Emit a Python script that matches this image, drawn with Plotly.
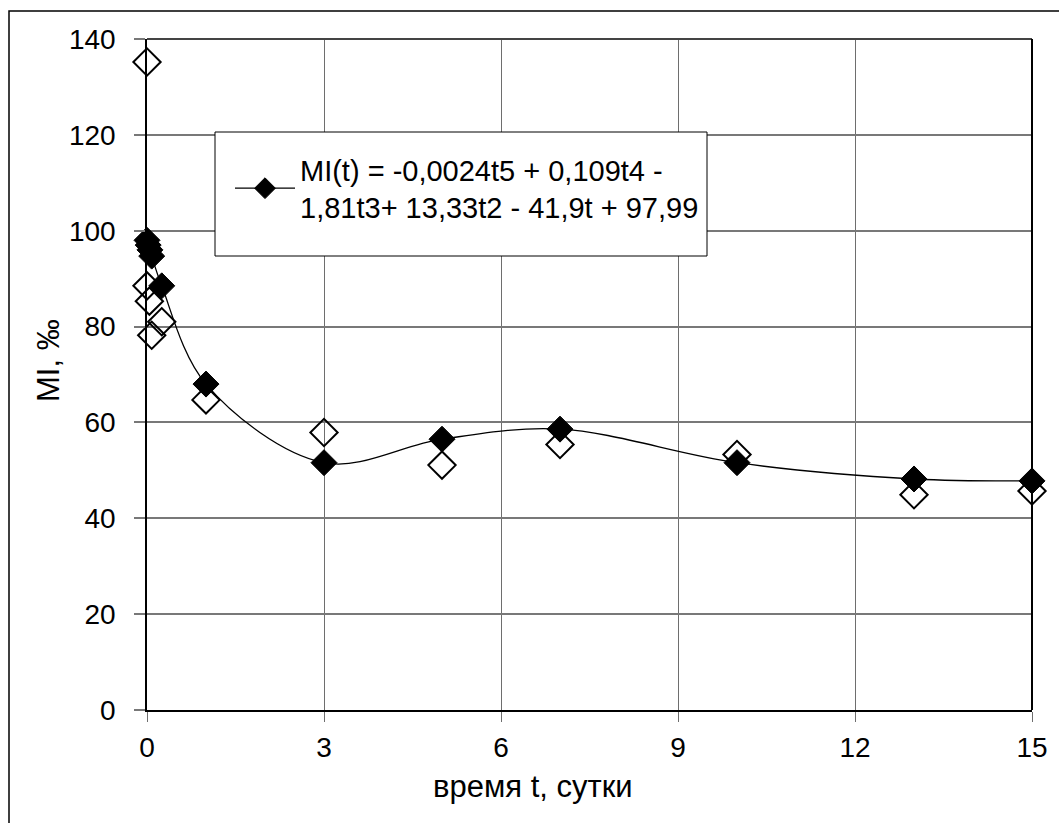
import plotly.graph_objects as go

# filled series (model values, joined with smoothed line)
t_fit = [0, 0.02, 0.05, 0.08, 0.25, 1, 3, 5, 7, 10, 13, 15]
mi_fit = [98.0, 97.0, 96.0, 94.7, 88.5, 68.0, 51.6, 56.5, 58.6, 51.6, 48.2, 47.8]

# open series (measured values)
t_obs = [0, 0, 0.04, 0.08, 0.25, 1, 3, 5, 7, 10, 13, 15]
mi_obs = [135.2, 88.5, 85.3, 78.2, 81.0, 64.7, 57.9, 51.1, 55.4, 53.3, 44.9, 45.7]

x_ticks = [0, 3, 6, 9, 12, 15]
y_ticks = [0, 20, 40, 60, 80, 100, 120, 140]

legend_text = "MI(t) = -0,0024t5 + 0,109t4 -<br>1,81t3+ 13,33t2 - 41,9t + 97,99"

FONT = "Liberation Sans, Arial, sans-serif"

fig = go.Figure()
fig.add_trace(go.Scatter(
    x=t_obs, y=mi_obs, mode="markers", showlegend=False,
    marker=dict(symbol="diamond-open", size=21, color="black", line=dict(width=2, color="black")),
    cliponaxis=False,
))
fig.add_trace(go.Scatter(
    x=t_fit, y=mi_fit, mode="lines+markers", name=legend_text,
    line=dict(color="black", width=1.3, shape="spline", smoothing=1),
    marker=dict(symbol="diamond", size=20, color="black", line=dict(width=1, color="black")),
    cliponaxis=False,
))

W, H = 1059, 823
L, R, T, B = 147, 1032, 39, 710
pw, ph = R - L, B - T

def px(x):
    return (x - L) / pw

def py(y):
    return (B - y) / ph

fig.update_layout(
    width=W, height=H,
    margin=dict(l=L, r=W - R, t=T, b=H - B),
    paper_bgcolor="white", plot_bgcolor="white",
    font=dict(family=FONT, size=28, color="black"),
    showlegend=True,
    legend=dict(
        x=px(230), y=py(144), xanchor="left", yanchor="top",
        bgcolor="rgba(0,0,0,0)", borderwidth=0,
        font=dict(family=FONT, size=29, color="black"),
        itemwidth=60,
    ),
    xaxis=dict(
        range=[0, 15], tickvals=x_ticks, ticktext=[str(v) for v in x_ticks],
        showgrid=True, gridcolor="#6e6e6e", gridwidth=1,
        zeroline=False, showline=True, linecolor="black", linewidth=1.5,
        ticks="outside", ticklen=10, tickcolor="#6e6e6e", tickwidth=1,
        ticklabelstandoff=2,
        tickfont=dict(family=FONT, size=28, color="black"),
    ),
    yaxis=dict(
        range=[0, 140], tickvals=y_ticks, ticktext=[str(v) for v in y_ticks],
        showgrid=True, gridcolor="#787878", gridwidth=1.5,
        zeroline=False, showline=True, linecolor="black", linewidth=1.5,
        ticks="outside", ticklen=11, tickcolor="#787878", tickwidth=1.5,
        ticklabelstandoff=13,
        tickfont=dict(family=FONT, size=28, color="black"),
    ),
    shapes=[
        # outer chart frame
        dict(type="rect", xref="paper", yref="paper",
             x0=px(9), x1=px(1065), y0=py(830), y1=py(11),
             line=dict(color="black", width=1.5), fillcolor="rgba(0,0,0,0)", layer="below"),
        # plot area frame (top / right)
        dict(type="line", xref="paper", yref="paper", x0=0, x1=1, y0=1, y1=1,
             line=dict(color="#444444", width=2), layer="above"),
        dict(type="line", xref="paper", yref="paper", x0=1, x1=1, y0=0, y1=1,
             line=dict(color="black", width=2), layer="above"),
        # legend box
        dict(type="rect", xref="paper", yref="paper",
             x0=px(215), x1=px(707), y0=py(256), y1=py(132),
             line=dict(color="black", width=1), fillcolor="white", layer="above"),
    ],
    annotations=[
        dict(text="время t, сутки", xref="paper", yref="paper",
             x=px(533), y=py(786), xanchor="center", yanchor="middle",
             showarrow=False, font=dict(family=FONT, size=31, color="black")),
        dict(text="MI, ‰", xref="paper", yref="paper",
             x=px(48), y=py(361), xanchor="center", yanchor="middle",
             textangle=-90, showarrow=False, font=dict(family=FONT, size=31, color="black")),
    ],
)

fig.write_html("out.html")
